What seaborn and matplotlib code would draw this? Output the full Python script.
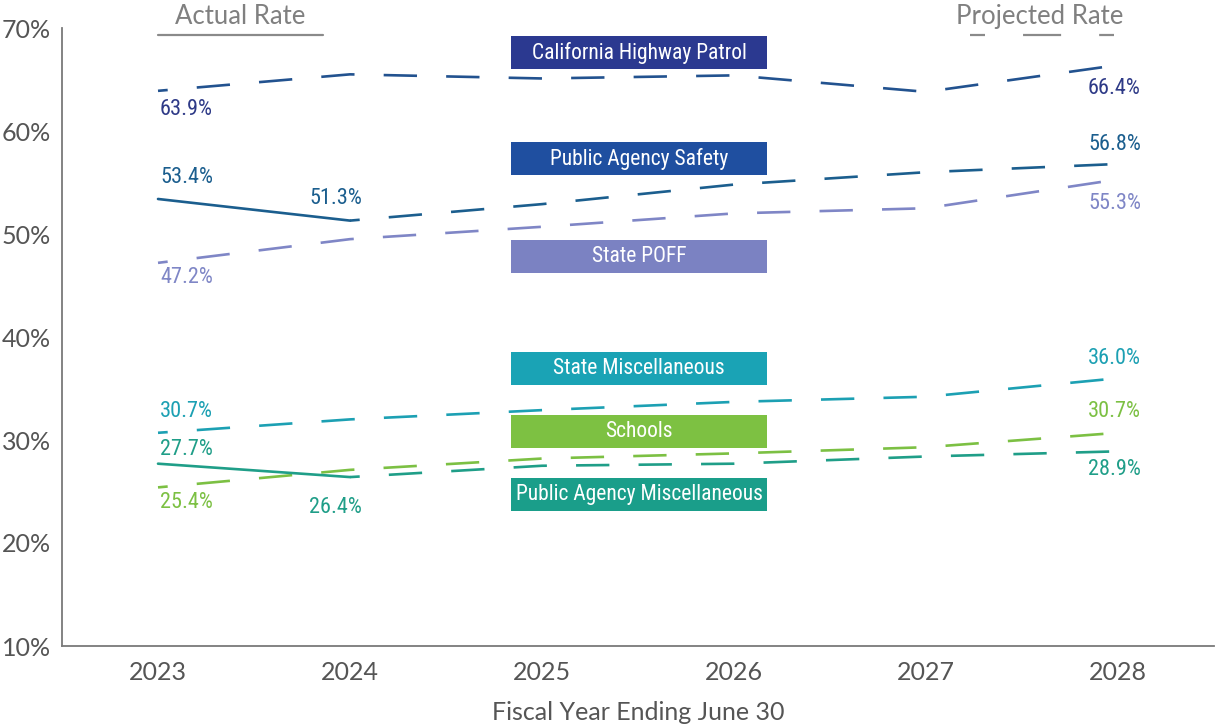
import numpy as np
import pandas as pd
import matplotlib
matplotlib.use('Agg')
import matplotlib.pyplot as plt
import matplotlib.transforms as mtransforms
from matplotlib.patches import Rectangle
import seaborn as sns

# data
years = [2023, 2024, 2025, 2026, 2027, 2028]
chp = [63.9, 65.5, 65.1, 65.4, 63.8, 66.4]
pa_safety = [53.4, 51.3, 52.9, 54.8, 56.0, 56.8]
state_poff = [47.2, 49.5, 50.7, 52.0, 52.5, 55.3]
state_misc = [30.7, 32.0, 32.9, 33.7, 34.2, 36.0]
schools = [25.4, 27.1, 28.2, 28.7, 29.3, 30.7]
pa_misc = [27.7, 26.4, 27.5, 27.7, 28.4, 28.9]

names = ['California Highway Patrol', 'Public Agency Safety', 'State POFF',
         'State Miscellaneous', 'Schools', 'Public Agency Miscellaneous']
values = [chp, pa_safety, state_poff, state_misc, schools, pa_misc]
# last year drawn as a solid (actual) line, None = dashed all the way
actual_until = [None, 2024, None, None, None, 2024]

line_colors = ['#22528f', '#1b5e8e', '#7f86c6', '#1ca0b3', '#7cc043', '#1f9e88']
label_colors = ['#2e3a87', '#1b5e8e', '#7f86c6', '#1ca0b3', '#7cc043', '#1f9e88']
box_colors = ['#2b3990', '#1f4fa0', '#7b82c2', '#1aa3b5', '#7dc142', '#1a9e8a']

# long table for seaborn
rows = []
for name, vals, last in zip(names, values, actual_until):
    for yr, v in zip(years, vals):
        if last is not None and yr <= last:
            rows.append((name, yr, v, 'Actual'))
        if last is None or yr >= last:
            rows.append((name, yr, v, 'Projected'))
df = pd.DataFrame(rows, columns=['series', 'year', 'rate', 'kind'])

sns.set_style('white')
plt.rcParams['font.family'] = ['Lato', 'DejaVu Sans']
plt.rcParams['lines.scale_dashes'] = False
narrow = ['Liberation Sans Narrow', 'Roboto Condensed', 'DejaVu Sans']

fig = plt.figure(figsize=(12.15, 7.25), dpi=100)
ax = fig.add_axes([62 / 1215, 1 - 646 / 725, (1214 - 62) / 1215, (646 - 28) / 725])

sns.lineplot(data=df, x='year', y='rate', hue='series', style='kind',
             hue_order=names, palette=dict(zip(names, line_colors)),
             dashes={'Actual': '', 'Projected': (24, 21)},
             linewidth=1.9, errorbar=None, legend=False, ax=ax)
for ln in ax.lines:
    if ln.get_linestyle() == '--':
        ln.set_linestyle((17, (24, 21)))

ax.set_xlim(2022.5, 2028.5)
ax.set_ylim(10, 70)
ax.set_xticks(years)
ax.set_xticklabels([str(y) for y in years])
yt = list(range(10, 71, 10))
ax.set_yticks(yt)
ax.set_yticklabels([f'{t}%' for t in yt])

grey = '#7a7a7a'
for s in ['top', 'right']:
    ax.spines[s].set_visible(False)
for s in ['left', 'bottom']:
    ax.spines[s].set_color(grey)
    ax.spines[s].set_linewidth(1.3)
ax.tick_params(axis='y', direction='in', length=21, width=1.1, color=grey,
               labelsize=18, labelcolor='#555555', pad=8)
ax.tick_params(axis='x', direction='in', length=11, width=1.1, color=grey,
               labelsize=18, labelcolor='#555555', pad=11)
ax.set_xlabel('Fiscal Year Ending June 30', fontsize=18, color='#555555', labelpad=12)
ax.set_ylabel('')

# value labels: (series idx, year, dx px, dy px, ha)
label_spots = [
    (0, 2023, 2, -19, 'left'), (0, 2028, -30, -23, 'left'),
    (1, 2023, 2, 21, 'left'), (1, 2024, 12, 22, 'right'), (1, 2028, -30, 19, 'left'),
    (2, 2023, 2, -15, 'left'), (2, 2028, -30, -24, 'left'),
    (3, 2023, 2, 21, 'left'), (3, 2028, -30, 20, 'left'),
    (4, 2023, 2, -15, 'left'), (4, 2028, -30, 21, 'left'),
    (5, 2023, 2, 14, 'left'), (5, 2024, 12, -30, 'right'), (5, 2028, -30, -18, 'left'),
]
for i, yr, dx, dy, ha in label_spots:
    v = values[i][years.index(yr)]
    ax.annotate(f'{v:.1f}%', (yr, v), xytext=(dx, dy), textcoords='offset pixels',
                ha=ha, va='center', fontsize=16, color=label_colors[i], family=narrow)

# name boxes in the middle
box_x0, box_w, box_h = 2024.84, 1.33, 3.2
box_y0 = [66.0, 55.7, 46.2, 35.3, 29.2, 23.1]
for i, name in enumerate(names):
    ax.add_patch(Rectangle((box_x0, box_y0[i]), box_w, box_h, color=box_colors[i],
                           zorder=3, lw=0))
    ax.text(box_x0 + box_w / 2, box_y0[i] + box_h / 2, name, ha='center', va='center',
            color='white', fontsize=15.5, family=narrow, zorder=4)

# header keys above the plot
tr = mtransforms.blended_transform_factory(ax.transData, ax.transAxes)
ax.text(2023.43, 1.018, 'Actual Rate', transform=tr, ha='center', va='center',
        fontsize=18.5, color='#808080', clip_on=False)
ax.plot([2023, 2023.86], [0.9887, 0.9887], transform=tr, color='#8a8a8a', lw=1.6,
        clip_on=False)
ax.text(2027.59, 1.018, 'Projected Rate', transform=tr, ha='center', va='center',
        fontsize=18.5, color='#808080', clip_on=False)
ax.plot([2027.23, 2027.98], [0.9887, 0.9887], transform=tr, color='#8a8a8a', lw=1.6,
        ls=(16.6, (27.4, 27.4)), clip_on=False)

fig.savefig('out.png', dpi=100)
